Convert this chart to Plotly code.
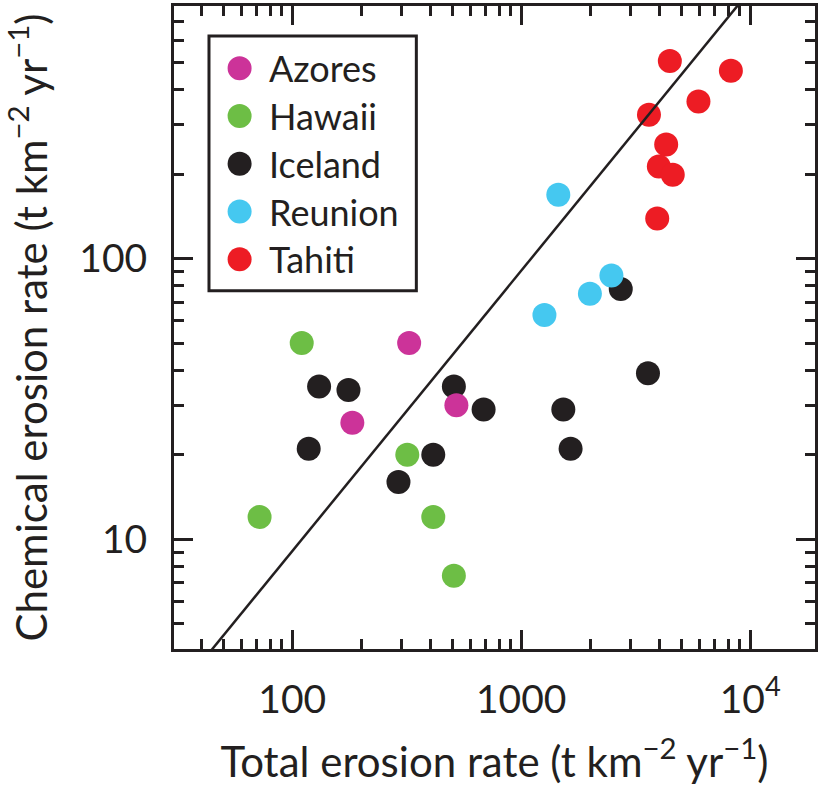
import plotly.graph_objects as go

# ---- data ----
series_names = ["Azores", "Hawaii", "Iceland", "Reunion", "Tahiti"]
series_colors = ["#CC3399", "#6DBE45", "#231F20", "#45C8F0", "#ED1C24"]

azores_total = [324, 183, 521]
azores_chem = [50, 26, 30]

hawaii_total = [110, 318, 72, 413, 508]
hawaii_chem = [50, 20, 12, 12, 7.4]

iceland_total = [131, 176, 508, 685, 118, 413, 291, 1527, 1643, 3577, 2721]
iceland_chem = [35, 34, 35, 29, 21, 20, 16, 29, 21, 39, 78]

reunion_total = [1452, 2477, 1995, 1263]
reunion_chem = [169, 87, 75, 63]

tahiti_total = [4457, 8234, 5943, 3613, 4296, 3991, 4590, 3926]
tahiti_chem = [506, 467, 363, 326, 255, 213, 199, 139]

# reference line endpoints
line_total = [30, 20000]
line_chem = [2.72, 1810]

x_tickvals = [100, 1000, 10000]
x_ticktext = ["100", "1000", "10<sup>4</sup>"]
y_tickvals = [10, 100]
y_ticktext = ["10", "100"]

FONT = "Lato"
INK = "#231F20"

data = {
    "Azores": (azores_total, azores_chem),
    "Hawaii": (hawaii_total, hawaii_chem),
    "Iceland": (iceland_total, iceland_chem),
    "Reunion": (reunion_total, reunion_chem),
    "Tahiti": (tahiti_total, tahiti_chem),
}
color_of = dict(zip(series_names, series_colors))
draw_order = ["Iceland", "Hawaii", "Azores", "Reunion", "Tahiti"]

fig = go.Figure()
for name in draw_order:
    xs, ys = data[name]
    fig.add_trace(go.Scatter(
        x=xs, y=ys, mode="markers", name=name, showlegend=False,
        marker=dict(size=24, color=color_of[name], line=dict(width=0)),
        cliponaxis=False,
    ))

fig.add_trace(go.Scatter(
    x=line_total, y=line_chem, mode="lines", showlegend=False,
    line=dict(color=INK, width=2.5),
))

# ---- manual legend (big swatches) ----
PL, PT, PW, PH = 174.2, 3.2, 643.0, 646.0


def px2paper_x(px):
    return (px - PL) / PW


def px2paper_y(py):
    return 1 - (py - PT) / PH


shapes = []
annotations = []
shapes.append(dict(type="rect", xref="paper", yref="paper",
                   x0=px2paper_x(209.3), x1=px2paper_x(417.3),
                   y0=px2paper_y(289.3), y1=px2paper_y(33.3),
                   line=dict(color=INK, width=3), fillcolor="white", layer="above"))
for i, name in enumerate(series_names):
    yc = px2paper_y(65.7 + 48.0 * i)
    shapes.append(dict(type="circle", xref="paper", yref="paper",
                       xsizemode="pixel", ysizemode="pixel",
                       xanchor=px2paper_x(240), yanchor=yc, x0=-12, x1=12, y0=-12, y1=12,
                       fillcolor=series_colors[i], line=dict(width=0), layer="above"))
    annotations.append(dict(xref="paper", yref="paper", x=px2paper_x(267), y=yc,
                            xanchor="left", yanchor="middle", showarrow=False,
                            text=name, font=dict(family=FONT, size=36, color=INK)))

axis_common = dict(
    type="log", showline=True, linewidth=3, linecolor=INK, mirror="allticks",
    ticks="inside", ticklen=19, tickwidth=2.5, tickcolor=INK,
    showgrid=False, zeroline=False,
    tickfont=dict(family=FONT, size=39, color=INK),
    minor=dict(ticks="inside", ticklen=10, tickwidth=2.5, tickcolor=INK,
               dtick="D1", showgrid=False),
)

fig.update_layout(
    width=821, height=792,
    margin=dict(l=174, r=4, t=3, b=143),
    paper_bgcolor="white", plot_bgcolor="white",
    shapes=shapes, annotations=annotations,
    xaxis=dict(**axis_common, range=[1.4836, 4.283],
               tickmode="array", tickvals=x_tickvals, ticktext=x_ticktext,
               ticklabelstandoff=14,
               title=dict(text="Total erosion rate (t km<sup>−2</sup> yr<sup>−1</sup>)",
                          font=dict(family=FONT, size=42, color=INK), standoff=28)),
    yaxis=dict(**axis_common, range=[0.6085, 2.9005],
               tickmode="array", tickvals=y_tickvals, ticktext=y_ticktext,
               ticklabelstandoff=16,
               title=dict(text="Chemical erosion rate (t km<sup>−2</sup> yr<sup>−1</sup>)",
                          font=dict(family=FONT, size=42, color=INK), standoff=26)),
)

fig.write_html("out.html")
